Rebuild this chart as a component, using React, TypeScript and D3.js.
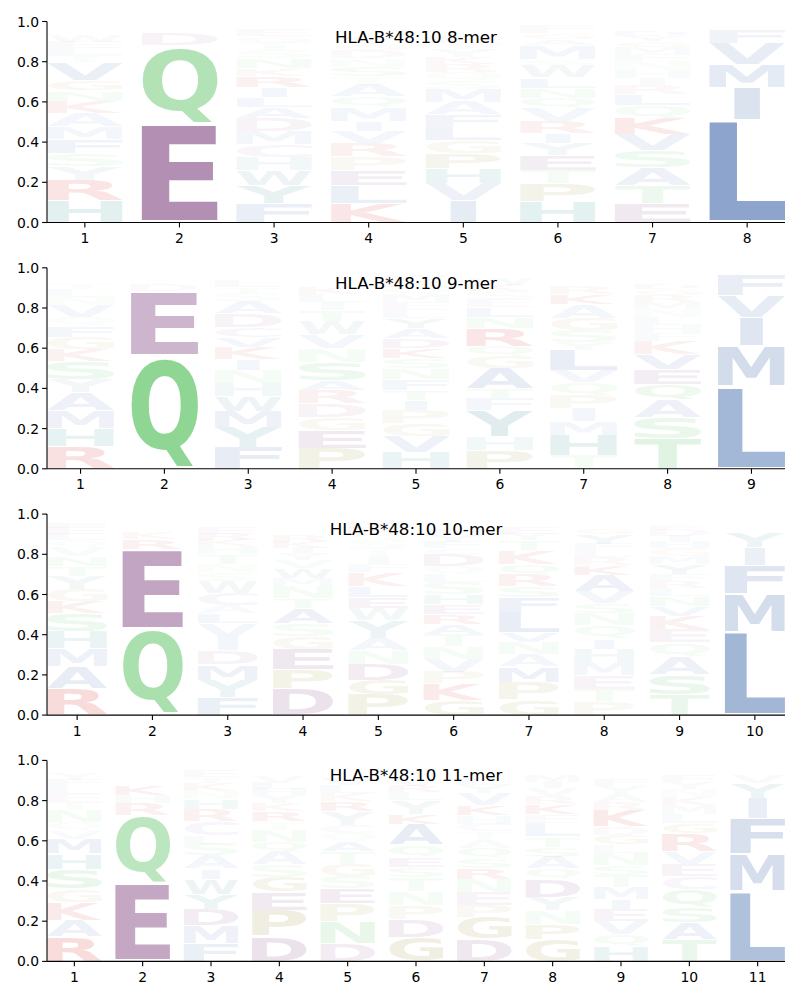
import React, { useMemo } from "react";
import * as d3 from "d3";

type Col = [string, number][];

// stacks read bottom -> top, heights are letter frequencies
const logo8: Col[] = [
  [["H", .11], ["R", .10], ["Y", .07], ["S", .065], ["F", .07], ["M", .06], ["A", .07], ["K", .06], ["N", .05], ["G", .05], ["V", .09], ["T", .04], ["L", .03], ["E", .03], ["W", .03], ["Q", .02], ["P", .02], ["I", .02], ["D", .01], ["C", .01]],
  [["E", .49], ["Q", .39], ["D", .06], ["H", .02], ["K", .02], ["A", .01]],
  [["F", .095], ["Y", .09], ["W", .075], ["H", .065], ["C", .065], ["M", .065], ["D", .065], ["A", .055], ["L", .05], ["I", .05], ["R", .055], ["K", .035], ["N", .05], ["S", .04], ["T", .04], ["G", .03], ["E", .03], ["P", .02], ["V", .02], ["Q", .015]],
  [["K", .095], ["L", .09], ["E", .075], ["P", .07], ["R", .065], ["V", .06], ["I", .05], ["M", .07], ["Q", .05], ["A", .06], ["T", .04], ["S", .05], ["N", .04], ["D", .04], ["G", .03], ["Y", .03], ["H", .02], ["F", .02], ["W", .02], ["C", .01]],
  [["I", .11], ["V", .085], ["H", .075], ["P", .075], ["G", .065], ["L", .065], ["F", .06], ["A", .065], ["M", .065], ["S", .04], ["Q", .045], ["R", .04], ["K", .03], ["Y", .04], ["T", .03], ["E", .03], ["N", .02], ["D", .02], ["W", .02], ["C", .01]],
  [["H", .105], ["P", .09], ["T", .065], ["E", .075], ["Y", .06], ["I", .05], ["R", .06], ["V", .065], ["Q", .05], ["N", .05], ["L", .05], ["W", .06], ["S", .03], ["M", .07], ["A", .03], ["G", .03], ["F", .04], ["K", .02]],
  [["E", .095], ["T", .09], ["A", .09], ["S", .085], ["V", .08], ["K", .08], ["Q", .065], ["L", .055], ["R", .045], ["I", .035], ["H", .04], ["N", .045], ["F", .035], ["M", .03], ["G", .03], ["Y", .025], ["D", .025], ["P", .02], ["W", .015], ["C", .01]],
  [["L", .51], ["I", .16], ["M", .115], ["V", .105], ["F", .065], ["Y", .02], ["W", .01], ["A", .01]],
];

const logo9: Col[] = [
  [["R", .11], ["H", .09], ["M", .09], ["A", .09], ["Y", .065], ["S", .09], ["K", .06], ["G", .06], ["F", .055], ["Q", .045], ["V", .06], ["N", .04], ["L", .04], ["T", .03], ["E", .02], ["D", .02], ["P", .02], ["W", .015]],
  [["Q", .565], ["E", .32], ["D", .03], ["K", .02], ["R", .02], ["H", .015], ["N", .015]],
  [["F", .105], ["Y", .10], ["M", .08], ["W", .075], ["H", .065], ["N", .065], ["I", .055], ["K", .06], ["V", .05], ["C", .05], ["D", .07], ["A", .06], ["S", .04], ["T", .03], ["L", .03], ["R", .02], ["E", .02], ["G", .015], ["Q", .01]],
  [["P", .10], ["E", .09], ["G", .065], ["D", .07], ["R", .065], ["A", .05], ["S", .09], ["N", .07], ["V", .07], ["W", .065], ["T", .055], ["I", .04], ["L", .04], ["K", .03], ["M", .02], ["F", .02], ["Y", .015], ["H", .01], ["C", .02], ["Q", .015]],
  [["H", .08], ["V", .08], ["G", .065], ["P", .065], ["I", .05], ["T", .05], ["F", .055], ["N", .055], ["S", .05], ["K", .05], ["D", .05], ["A", .05], ["Y", .05], ["L", .04], ["E", .04], ["M", .04], ["Q", .035], ["R", .035], ["W", .025], ["C", .02]],
  [["P", .09], ["H", .07], ["Y", .13], ["F", .06], ["T", .05], ["A", .10], ["G", .06], ["Q", .05], ["R", .09], ["N", .055], ["L", .05], ["E", .04], ["S", .04], ["K", .03], ["W", .03], ["V", .02], ["M", .02], ["D", .01]],
  [["T", .065], ["H", .10], ["M", .07], ["I", .065], ["P", .065], ["Q", .065], ["V", .06], ["L", .10], ["Y", .04], ["S", .06], ["G", .06], ["A", .07], ["K", .05], ["R", .04], ["E", .02], ["F", .02], ["D", .015], ["W", .01]],
  [["T", .15], ["S", .105], ["A", .09], ["Q", .075], ["E", .075], ["V", .075], ["K", .065], ["F", .04], ["H", .04], ["L", .04], ["N", .04], ["M", .035], ["R", .035], ["G", .03], ["D", .025], ["Y", .02], ["P", .02], ["I", .015], ["W", .01], ["C", .01]],
  [["L", .41], ["M", .20], ["I", .14], ["V", .11], ["F", .10], ["Y", .02]],
];

const logo10: Col[] = [
  [["R", .13], ["A", .11], ["M", .09], ["H", .085], ["S", .09], ["K", .06], ["G", .06], ["Y", .065], ["T", .05], ["N", .05], ["V", .045], ["Q", .035], ["L", .03], ["E", .03], ["F", .025], ["D", .02], ["P", .015], ["I", .01]],
  [["Q", .43], ["E", .395], ["R", .05], ["K", .03], ["H", .02], ["W", .02], ["I", .015], ["D", .02], ["N", .015]],
  [["F", .09], ["Y", .085], ["M", .075], ["D", .07], ["I", .065], ["V", .07], ["L", .05], ["A", .04], ["C", .06], ["W", .06], ["S", .045], ["N", .04], ["T", .05], ["H", .04], ["K", .03], ["R", .03], ["E", .03], ["G", .02], ["P", .015], ["Q", .01]],
  [["D", .13], ["P", .095], ["E", .10], ["G", .065], ["S", .065], ["A", .075], ["T", .05], ["N", .06], ["M", .04], ["W", .05], ["V", .04], ["Y", .03], ["I", .03], ["K", .03], ["R", .03], ["L", .02], ["Q", .02], ["F", .02], ["H", .015], ["C", .01]],
  [["P", .10], ["G", .075], ["D", .08], ["N", .065], ["A", .06], ["Y", .09], ["W", .06], ["E", .055], ["L", .055], ["K", .07], ["F", .04], ["I", .04], ["T", .04], ["S", .04], ["Q", .03], ["R", .03], ["M", .03], ["H", .02], ["V", .02]],
  [["G", .075], ["K", .08], ["P", .06], ["V", .065], ["N", .06], ["T", .06], ["A", .05], ["R", .05], ["E", .05], ["H", .05], ["S", .06], ["L", .04], ["Q", .04], ["D", .06], ["C", .03], ["F", .03], ["Y", .03], ["M", .03], ["W", .02], ["I", .02]],
  [["G", .075], ["P", .09], ["M", .075], ["A", .06], ["N", .06], ["V", .05], ["L", .10], ["F", .075], ["S", .055], ["R", .06], ["Q", .05], ["K", .07], ["T", .05], ["Y", .03], ["E", .03], ["D", .02], ["H", .02], ["I", .02], ["W", .01]],
  [["P", .07], ["T", .06], ["E", .07], ["M", .065], ["H", .065], ["I", .05], ["Q", .065], ["N", .06], ["S", .05], ["V", .06], ["A", .08], ["K", .05], ["R", .04], ["L", .035], ["F", .03], ["Y", .05], ["G", .03], ["D", .02], ["W", .02], ["C", .01]],
  [["T", .10], ["S", .10], ["A", .09], ["Q", .07], ["E", .065], ["K", .065], ["V", .05], ["N", .05], ["L", .04], ["R", .035], ["F", .035], ["Y", .05], ["M", .04], ["G", .04], ["H", .03], ["I", .03], ["D", .03], ["P", .025], ["W", .02], ["C", .01]],
  [["L", .415], ["M", .19], ["F", .14], ["I", .09], ["Y", .075], ["W", .02], ["V", .015]],
];

const logo11: Col[] = [
  [["R", .125], ["A", .08], ["K", .09], ["G", .065], ["S", .10], ["H", .075], ["M", .075], ["V", .04], ["Q", .04], ["N", .06], ["T", .04], ["E", .04], ["L", .04], ["F", .03], ["Y", .03], ["D", .02], ["P", .02], ["I", .02], ["W", .01]],
  [["E", .385], ["Q", .34], ["R", .06], ["H", .04], ["K", .05], ["D", .02], ["A", .02], ["N", .02], ["S", .02], ["M", .01]],
  [["F", .09], ["M", .09], ["D", .08], ["Y", .075], ["W", .075], ["I", .05], ["A", .065], ["S", .06], ["L", .04], ["C", .07], ["R", .06], ["H", .05], ["N", .04], ["K", .04], ["T", .03], ["E", .03], ["G", .02], ["V", .02], ["P", .01]],
  [["D", .125], ["P", .13], ["E", .09], ["G", .075], ["S", .06], ["A", .065], ["Q", .05], ["N", .06], ["T", .04], ["R", .05], ["K", .04], ["Y", .04], ["H", .03], ["L", .03], ["V", .03], ["F", .02], ["M", .02], ["I", .02], ["W", .01], ["C", .01]],
  [["D", .09], ["N", .11], ["P", .09], ["E", .075], ["S", .06], ["G", .06], ["T", .06], ["A", .05], ["Q", .04], ["C", .04], ["Y", .07], ["R", .05], ["K", .04], ["L", .04], ["V", .03], ["I", .02], ["M", .02], ["F", .02], ["H", .02], ["W", .01]],
  [["G", .12], ["D", .09], ["P", .07], ["N", .07], ["T", .07], ["S", .05], ["E", .05], ["Q", .06], ["A", .10], ["K", .05], ["Y", .07], ["L", .04], ["R", .03], ["V", .03], ["F", .02], ["I", .02], ["H", .02], ["M", .02], ["W", .01]],
  [["D", .11], ["G", .11], ["P", .06], ["E", .065], ["N", .065], ["R", .055], ["S", .05], ["Q", .05], ["A", .04], ["T", .04], ["C", .04], ["H", .04], ["K", .05], ["V", .06], ["Y", .04], ["L", .03], ["F", .02], ["I", .02], ["M", .02], ["W", .01]],
  [["G", .11], ["P", .075], ["N", .07], ["Y", .065], ["D", .09], ["Q", .05], ["A", .06], ["S", .05], ["T", .05], ["L", .07], ["E", .04], ["K", .05], ["R", .04], ["V", .04], ["I", .03], ["M", .03], ["H", .02], ["F", .02], ["W", .01], ["C", .01]],
  [["H", .075], ["Q", .06], ["V", .065], ["E", .06], ["I", .05], ["M", .06], ["T", .06], ["S", .05], ["N", .06], ["L", .04], ["G", .05], ["D", .04], ["K", .08], ["R", .04], ["A", .04], ["Y", .04], ["F", .03], ["W", .02], ["C", .02], ["P", .02]],
  [["T", .11], ["A", .085], ["S", .075], ["Q", .09], ["C", .065], ["E", .06], ["V", .06], ["R", .09], ["G", .05], ["L", .045], ["M", .045], ["K", .04], ["N", .04], ["Y", .035], ["F", .03], ["H", .02], ["I", .02], ["D", .02], ["P", .01], ["W", .01]],
  [["L", .35], ["M", .185], ["F", .175], ["I", .10], ["Y", .075], ["V", .04], ["W", .02]],
];

const logos = [logo8, logo9, logo10, logo11];
const titles = ["HLA-B*48:10 8-mer", "HLA-B*48:10 9-mer", "HLA-B*48:10 10-mer", "HLA-B*48:10 11-mer"];
const yTicks = [0, 0.2, 0.4, 0.6, 0.8, 1.0];

const aaColors: Record<string, string> = {
  A: "#4c72b0", V: "#4c72b0", L: "#4c72b0", I: "#4c72b0", M: "#4c72b0", F: "#4c72b0",
  W: "#4f829e",
  H: "#2f8f8f", Y: "#3f8b98",
  D: "#834883", E: "#834883",
  K: "#d62728", R: "#d62728",
  S: "#60c368", T: "#60c368", N: "#60c368", Q: "#60c368",
  G: "#a0963c", P: "#a0963c",
  C: "#9a6fb0",
};

// narrow glyphs are not stretched to the full slot width
const narrowWidth: Record<string, number> = { I: 0.34 };

const FONT = "'DejaVu Sans', sans-serif";

function useGlyphMetrics() {
  return useMemo(() => {
    const canvas = document.createElement("canvas");
    const ctx = canvas.getContext("2d")!;
    ctx.font = `bold 100px ${FONT}`;
    const m: Record<string, { l: number; r: number; a: number; d: number }> = {};
    Object.keys(aaColors).forEach((ch) => {
      const t = ctx.measureText(ch);
      m[ch] = {
        l: t.actualBoundingBoxLeft,
        r: t.actualBoundingBoxRight,
        a: t.actualBoundingBoxAscent,
        d: t.actualBoundingBoxDescent,
      };
    });
    return m;
  }, []);
}

export default function App() {
  const metrics = useGlyphMetrics();
  const width = 800;
  const height = 1000;
  const left = 47;
  const right = 785;
  const panelH = 201;
  const firstTop = 21.5;
  const step = 246.3;
  const vpad = 0.05;

  return (
    <svg width={width} height={height} style={{ position: "absolute", left: 0, top: 0, background: "#fff" }}
      fontFamily={FONT}>
      {logos.map((cols, pi) => {
        const top = firstTop + pi * step;
        const bottom = top + panelH;
        const n = cols.length;
        const x = d3.scaleLinear().domain([0.6, n + 0.4]).range([left, right]);
        const y = d3.scaleLinear().domain([0, 1]).range([bottom, top]);
        const clipId = `clip-${pi}`;
        return (
          <g key={pi}>
            <clipPath id={clipId}>
              <rect x={left} y={top} width={right - left} height={panelH} />
            </clipPath>
            <g clipPath={`url(#${clipId})`}>
              {cols.map((col, ci) => {
                let acc = 0;
                const pos = ci + 1;
                return col.map(([ch, h], li) => {
                  const lo = acc + (h * vpad) / 2;
                  const hi = acc + h - (h * vpad) / 2;
                  acc += h;
                  const half = 0.4 * (narrowWidth[ch] ?? 1);
                  const x0 = x(pos - half);
                  const x1 = x(pos + half);
                  const g = metrics[ch];
                  const yt = y(hi);
                  const yb = y(lo);
                  const sx = (x1 - x0) / (g.l + g.r);
                  const sy = (yb - yt) / (g.a + g.d);
                  return (
                    <text
                      key={`${ci}-${li}`}
                      transform={`translate(${x0 + g.l * sx},${yt + g.a * sy}) scale(${sx},${sy})`}
                      fontSize={100}
                      fontWeight="bold"
                      fill={aaColors[ch]}
                      fillOpacity={Math.min(1, h * 1.25)}
                    >
                      {ch}
                    </text>
                  );
                });
              })}
            </g>
            <text x={(left + right) / 2} y={top + 21} textAnchor="middle" fontSize={16.7} fill="#000">
              {titles[pi]}
            </text>
            {/* axes */}
            <line x1={left} x2={left} y1={top} y2={bottom} stroke="#000" strokeWidth={1.1} />
            <line x1={left} x2={right} y1={bottom} y2={bottom} stroke="#000" strokeWidth={1.1} />
            {yTicks.map((t) => (
              <g key={t}>
                <line x1={left - 4.9} x2={left} y1={y(t)} y2={y(t)} stroke="#000" strokeWidth={1.1} />
                <text x={left - 8} y={y(t) + 5} textAnchor="end" fontSize={13.9} fill="#000">
                  {t.toFixed(1)}
                </text>
              </g>
            ))}
            {d3.range(1, n + 1).map((p) => (
              <g key={p}>
                <line x1={x(p)} x2={x(p)} y1={bottom} y2={bottom + 4.9} stroke="#000" strokeWidth={1.1} />
                <text x={x(p)} y={bottom + 20.5} textAnchor="middle" fontSize={13.9} fill="#000">
                  {p}
                </text>
              </g>
            ))}
          </g>
        );
      })}
    </svg>
  );
}
